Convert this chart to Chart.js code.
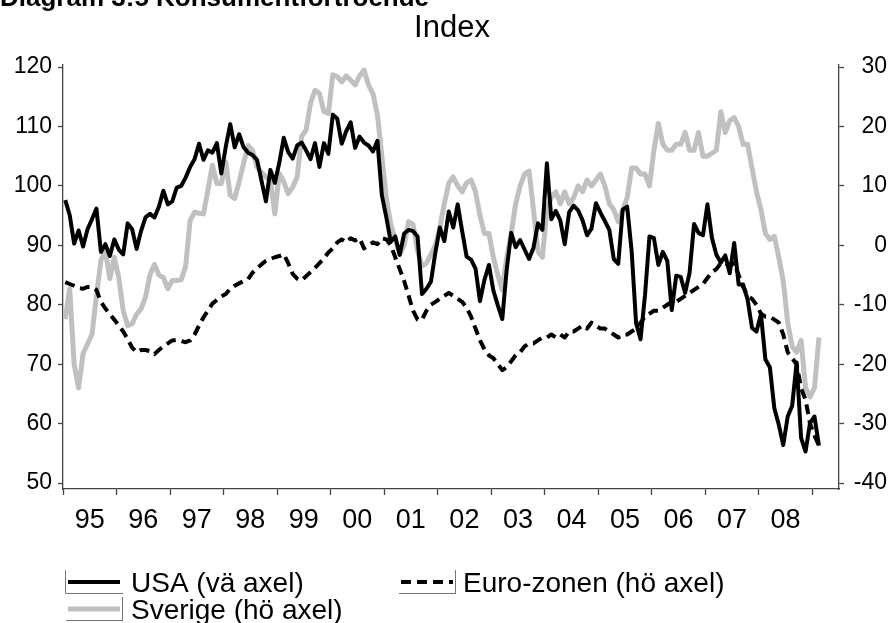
<!DOCTYPE html>
<html>
<head>
<meta charset="utf-8">
<script src="https://cdn.jsdelivr.net/npm/chart.js@4.4.1/dist/chart.umd.min.js"></script>
<style>
	html, body { margin: 0; padding: 0; background: #fff; }
</style>
</head>
<body>
<canvas id="myChart" width="895" height="623"></canvas>
<script>
const heading = "Diagram 3:5 Konsumentförtroende";
const unitLabel = "Index";
const years = ["95", "96", "97", "98", "99", "00", "01", "02", "03", "04", "05", "06", "07", "08"];
const leftTicks = [50, 60, 70, 80, 90, 100, 110, 120];
const rightTicks = [-40, -30, -20, -10, 0, 10, 20, 30];

// monthly values, jan 1995 - feb 2009
const usa = [
	97.6, 95.1, 90.3, 92.5, 89.8, 92.7, 94.4, 96.2, 88.9, 90.2, 88.2, 91.0,
	89.3, 88.5, 93.7, 92.7, 89.4, 92.4, 94.7, 95.3, 94.7, 96.5, 99.2, 96.9,
	97.4, 99.7, 100.0, 101.4, 103.2, 104.5, 107.1, 104.4, 106.0, 105.6, 107.2, 102.1,
	106.6, 110.4, 106.5, 108.7, 106.5, 105.6, 105.2, 104.4, 100.9, 97.4, 102.7, 100.5,
	103.9, 108.1, 105.7, 104.6, 106.8, 107.3, 106.0, 104.5, 107.2, 103.2, 107.2, 105.4,
	112.0, 111.3, 107.1, 109.2, 110.7, 106.4, 108.3, 107.3, 106.8, 105.8, 107.6, 98.4,
	94.7, 90.6, 91.5, 88.4, 92.0, 92.6, 92.4, 91.5, 81.8, 82.7, 83.9, 88.8,
	93.0, 90.7, 95.7, 93.0, 96.9, 92.4, 88.1, 87.6, 86.1, 80.6, 84.2, 86.7,
	82.4, 79.9, 77.6, 86.0, 92.1, 89.7, 90.9, 89.3, 87.7, 89.6, 93.7, 92.6,
	103.8, 94.4, 95.8, 94.2, 90.2, 95.6, 96.7, 95.9, 94.2, 91.7, 92.8, 97.1,
	95.5, 94.1, 92.6, 87.7, 86.9, 96.0, 96.5, 89.1, 76.9, 74.2, 81.6, 91.5,
	91.2, 86.7, 88.9, 87.4, 79.1, 84.9, 84.7, 82.0, 85.4, 93.6, 92.1, 91.7,
	96.9, 91.3, 88.4, 87.1, 88.3, 85.3, 90.4, 83.4, 83.4, 80.9, 76.1, 75.5,
	78.4, 70.8, 69.5, 62.6, 59.8, 56.4, 61.2, 63.0, 70.3, 57.6, 55.3, 60.1,
	61.2, 56.3
];
const euro = [
	-6.2, -6.5, -6.8, -7.2, -7.3, -7.0, -7.0, -7.5, -9.5, -10.6, -11.6, -12.5,
	-13.5, -14.5, -15.8, -17.2, -18.0, -17.6, -17.6, -17.8, -18.3, -17.6, -17.0, -16.5,
	-16.0, -15.9, -16.1, -16.3, -16.0, -15.0, -13.5, -12.1, -11.0, -9.8, -9.2, -8.6,
	-8.2, -7.3, -6.8, -6.4, -6.0, -5.7, -4.6, -3.9, -3.2, -2.6, -2.3, -2.0,
	-1.8, -1.5, -3.0, -4.8, -5.6, -5.9, -5.2, -4.5, -3.8, -3.0, -2.2, -1.2,
	-0.5, 0.5, 1.0, 0.5, 1.2, 0.8, 1.2, -0.5, 0.0, 0.5, 0.2, 1.2,
	1.0, 0.0, -2.0, -4.0, -6.0, -8.5, -11.0, -12.5, -12.5, -11.0, -10.0, -9.5,
	-9.0, -8.5, -8.0, -8.5, -9.0, -9.5, -10.5, -12.0, -14.0, -16.0, -17.5, -18.5,
	-19.0, -20.0, -21.0, -20.5, -19.5, -18.5, -18.0, -17.0, -16.5, -16.5, -16.0, -15.5,
	-15.5, -15.0, -15.5, -15.0, -15.5, -14.5, -14.5, -14.0, -13.5, -14.0, -13.0, -13.5,
	-14.0, -14.0, -14.5, -15.0, -15.5, -15.0, -15.0, -14.5, -14.0, -13.0, -12.0, -11.5,
	-11.0, -11.0, -10.5, -10.0, -9.5, -9.5, -9.0, -8.5, -8.0, -7.5, -7.0, -6.5,
	-5.5, -4.5, -4.0, -3.0, -3.0, -3.5, -3.0, -5.0, -7.0, -8.5, -9.0, -10.0,
	-11.5, -12.0, -12.0, -12.5, -13.0, -15.0, -18.0, -19.0, -20.0, -24.0, -26.0, -30.0,
	-32.0, -33.7
];
const sverige = [
	-12.4, -7.3, -20.0, -24.0, -18.2, -16.6, -15.0, -8.5, -2.5, -1.0, -5.6, -2.0,
	-5.4, -11.0, -13.5, -13.2, -11.6, -10.7, -8.7, -5.0, -3.2, -5.0, -5.4, -7.3,
	-5.9, -5.9, -5.8, -3.5, 4.2, 5.6, 5.4, 5.3, 9.3, 13.5, 10.4, 10.4,
	14.0, 8.4, 7.9, 10.7, 13.8, 16.8, 16.0, 13.2, 12.3, 11.5, 10.9, 5.3,
	12.1, 10.7, 8.7, 9.8, 11.5, 18.3, 19.4, 23.9, 26.1, 25.6, 22.5, 22.2,
	28.7, 28.4, 27.5, 28.5, 27.8, 27.0, 28.5, 29.5, 27.0, 25.5, 22.0, 15.0,
	8.0, 3.5, 1.0, -1.5, 0.0, 4.0, 3.5, -1.0, -3.5, -3.0, -1.5, 0.0,
	3.0, 7.0, 10.5, 11.5, 10.0, 9.0, 10.5, 11.0, 9.0, 5.0, 2.0, 2.0,
	-2.0, -5.0, -7.5, -2.0, 2.0, 7.0, 10.0, 12.0, 12.5, 6.0, -1.0, -2.0,
	6.0, 8.0, 9.0, 7.0, 9.0, 7.0, 8.0, 10.0, 9.0, 11.0, 10.0, 11.0,
	12.0, 10.0, 7.0, 6.0, 4.0, 6.0, 8.0, 13.0, 13.0, 12.0, 12.0, 10.0,
	16.0, 20.5, 17.0, 16.0, 16.0, 17.0, 17.0, 19.0, 16.0, 16.0, 19.0, 15.0,
	15.0, 15.5, 16.0, 22.5, 19.0, 21.0, 21.5, 20.0, 17.0, 17.0, 13.0, 9.0,
	6.0, 2.0, 1.0, 1.5, -2.0, -6.0, -13.0, -17.0, -18.0, -16.0, -24.0, -25.5,
	-24.0, -15.5
];

const fontFamily = '"Liberation Sans", Arial, sans-serif';
const axisColor = "#444";
const greyLine = "rgb(192,192,192)";

// one point per month, centred in its month slot
const toPoints = (arr) => arr.map((v, i) => ({ x: i + 0.5, y: v }));

const series = [
	{ label: "USA (vä axel)", data: toPoints(usa), yAxisID: "y", borderColor: "#000", borderWidth: 4, borderDash: [] },
	{ label: "Euro-zonen (hö axel)", data: toPoints(euro), yAxisID: "y2", borderColor: "#000", borderWidth: 4, borderDash: [10, 6] },
	{ label: "Sverige (hö axel)", data: toPoints(sverige), yAxisID: "y2", borderColor: greyLine, borderWidth: 5, borderDash: [] },
];

// legend: sample start x, sample y, text x, which side the little frame edge sits on
const legendSlots = [
	{ x: 68, y: 582, tx: 131, edge: "left" },
	{ x: 401, y: 582, tx: 463, edge: "right" },
	{ x: 68, y: 609, tx: 131, edge: "right" },
];

const chartText = {
	id: "chartText",
	afterDraw(chart) {
		const c = chart.ctx;
		c.save();
		c.fillStyle = "#000";
		c.textBaseline = "alphabetic";
		c.font = "bold 26px " + fontFamily;
		c.textAlign = "left";
		c.fillText(heading, 0, 6);
		c.font = "31px " + fontFamily;
		c.textAlign = "center";
		c.fillText(unitLabel, 452, 37);

		c.font = "28px " + fontFamily;
		c.textAlign = "left";
		chart.data.datasets.forEach((ds, i) => {
			const s = legendSlots[i];
			// thin frame bits like the original export
			c.beginPath();
			c.strokeStyle = "#777";
			c.lineWidth = 1;
			const ex = s.edge === "left" ? s.x - 2.5 : s.x + 54.5;
			c.moveTo(ex, s.y - 12);
			c.lineTo(ex, s.y + 11.5);
			c.moveTo(s.x - 2, s.y + 11.5);
			c.lineTo(s.x + 55, s.y + 11.5);
			c.stroke();

			c.beginPath();
			c.strokeStyle = ds.borderColor;
			c.lineWidth = ds.borderWidth;
			c.setLineDash(ds.borderDash);
			c.moveTo(s.x, s.y);
			c.lineTo(s.x + 52, s.y);
			c.stroke();
			c.setLineDash([]);
			c.fillText(ds.label, s.tx, s.y + 10);
		});
		c.restore();
	},
};

const ctx = document.getElementById("myChart");

new Chart(ctx, {
	type: "line",
	data: {
		datasets: series.map((s) => ({
			...s,
			pointRadius: 0,
			tension: 0,
			fill: false,
			borderJoinStyle: "round",
			borderCapStyle: "butt",
		})),
	},
	options: {
		responsive: false,
		devicePixelRatio: 1,
		animation: false,
		layout: { padding: { top: 65, right: 8, bottom: 84, left: 0 } },
		plugins: {
			legend: { display: false },
			tooltip: { enabled: false },
		},
		scales: {
			x: {
				type: "linear",
				min: 0,
				max: 174,
				afterBuildTicks: (s) => {
					s.ticks = [];
					for (let v = 0; v <= 168; v += 6) s.ticks.push({ value: v });
				},
				afterFit: (s) => { s.height = 50; },
				grid: {
					drawOnChartArea: false,
					tickLength: 6,
					tickWidth: 1.3,
					tickColor: (c) => (c.tick && c.tick.value % 12 === 0 ? axisColor : "rgba(0,0,0,0)"),
				},
				border: { color: axisColor, width: 1.3 },
				ticks: {
					autoSkip: false,
					maxRotation: 0,
					padding: 9,
					color: "#000",
					font: { family: fontFamily, size: 27 },
					callback: (v) => (v % 12 === 6 ? years[(v - 6) / 12] : ""),
				},
			},
			y: {
				position: "left",
				min: 49.0,
				max: 120.35,
				afterBuildTicks: (s) => { s.ticks = leftTicks.map((v) => ({ value: v })); },
				afterFit: (s) => { s.width = 63; },
				grid: { drawOnChartArea: false, tickLength: 5, tickWidth: 1.3, tickColor: axisColor },
				border: { color: axisColor, width: 1.3 },
				ticks: { padding: 6, color: "#000", font: { family: fontFamily, size: 23 } },
			},
			y2: {
				position: "right",
				min: -41.0,
				max: 30.35,
				afterBuildTicks: (s) => { s.ticks = rightTicks.map((v) => ({ value: v })); },
				afterFit: (s) => { s.width = 48; },
				grid: { drawOnChartArea: false, tickLength: 5, tickWidth: 1.3, tickColor: axisColor },
				border: { color: axisColor, width: 1.3 },
				ticks: { padding: 6, crossAlign: "far", color: "#000", font: { family: fontFamily, size: 23 } },
			},
		},
	},
	plugins: [chartText],
});
</script>
</body>
</html>
